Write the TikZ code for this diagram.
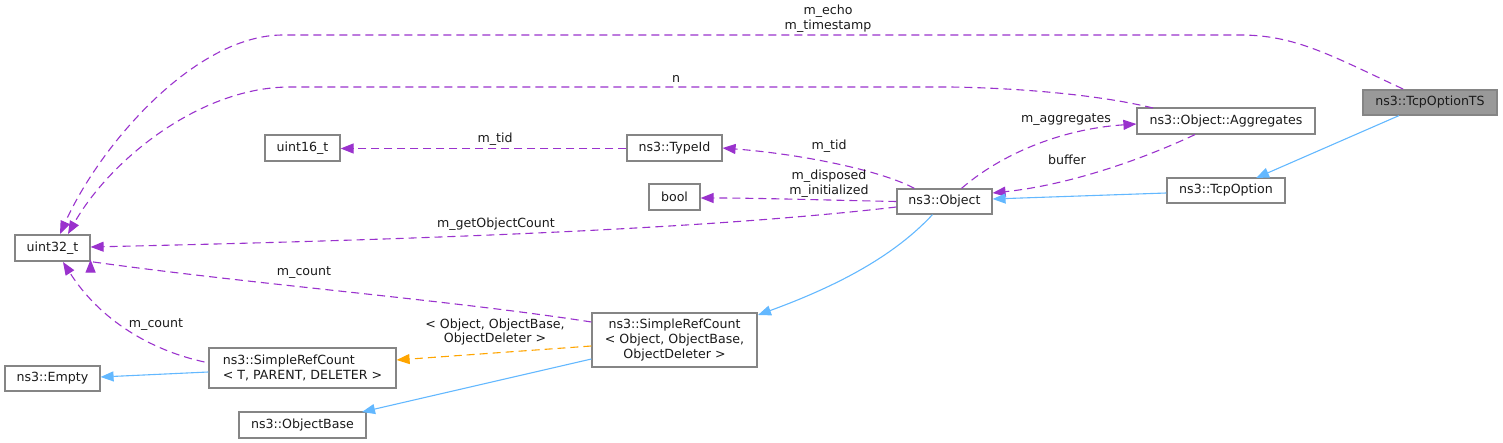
\documentclass[tikz,border=0pt]{standalone}
\usepackage{fontspec}
\setmainfont{DejaVu Sans}
\usetikzlibrary{arrows.meta}
\definecolor{edgepurple}{HTML}{9A32CD}
\definecolor{edgeblue}{HTML}{63B8FF}
\definecolor{edgeorange}{HTML}{FFA500}
\definecolor{boxgray}{HTML}{858585}
\definecolor{tsfill}{HTML}{999999}
\definecolor{txt}{HTML}{1A1A1A}
\begin{document}
\begin{tikzpicture}[x=1pt,y=-1pt,
  every node/.style={font=\fontsize{12.6}{14.6}\selectfont, text=txt},
  cls/.style={draw=boxgray, line width=1.2pt, fill=white, inner sep=0pt, anchor=center},
  lbl/.style={inner sep=0pt, align=center, anchor=center},
  member/.style={draw=edgepurple, line width=1.1pt, dash pattern=on 8pt off 5pt, -{Triangle[length=13pt,width=10pt]}},
  inherit/.style={draw=edgeblue, line width=1.1pt, -{Triangle[length=13pt,width=10pt]}},
  templ/.style={draw=edgeorange, line width=1.1pt, dash pattern=on 8pt off 5pt, -{Triangle[length=13pt,width=10pt]}}
]
\useasboundingbox (0,0) rectangle (1503,443);

% nodes
\node[cls, fill=tsfill, minimum width=134pt, minimum height=25pt] (ts) at (1430,102.5) {ns3::TcpOptionTS};
\node[cls, minimum width=178pt, minimum height=26pt] (agg) at (1226,121) {ns3::Object::Aggregates};
\node[cls, minimum width=118pt, minimum height=25pt] (tcpopt) at (1226,190.5) {ns3::TcpOption};
\node[cls, minimum width=95pt, minimum height=25pt] (obj) at (944.5,201.5) {ns3::Object};
\node[cls, minimum width=95pt, minimum height=26pt] (typeid) at (674.5,148) {ns3::TypeId};
\node[cls, minimum width=51pt, minimum height=26pt] (bool) at (674.5,197) {bool};
\node[cls, minimum width=75pt, minimum height=26pt] (u16) at (302.5,148) {uint16\_t};
\node[cls, minimum width=75pt, minimum height=26pt] (u32) at (52.5,248) {uint32\_t};
\node[cls, minimum width=95pt, minimum height=25pt] (empty) at (52.5,378.5) {ns3::Empty};
\node[cls, minimum width=187pt, minimum height=40pt, align=left] (srcT) at (302.5,368) {ns3::SimpleRefCount\\< T, PARENT, DELETER >};
\node[cls, minimum width=127pt, minimum height=26pt] (objbase) at (302.5,425) {ns3::ObjectBase};
\node[cls, minimum width=165pt, minimum height=54pt, align=center] (srcO) at (674.5,340) {ns3::SimpleRefCount\\< Object, ObjectBase,\\ObjectDeleter >};

% anchor points
\coordinate (tsTop) at (1403,89);
\coordinate (u32TopA) at (60,234);
\coordinate (aggTop) at (1153,108);
\coordinate (u32TopB) at (68,234);

% member edges
\draw[member] (tsTop) .. controls (1330,55) and (1295,35) .. (1240,35) -- (283,35) .. controls (195,35) and (100,145) .. (u32TopA);
\node[lbl] (lEcho) at (828,19) {m\_echo\\m\_timestamp};

\draw[member] (aggTop) .. controls (1100,95) and (1020,88) .. (950,87) -- (290,87) .. controls (200,87) and (110,160) .. (u32TopB);
\node[lbl] (lN) at (676,79) {n};

\draw[member] (obj.north west) ++(18,0) .. controls (880,170) and (800,154) .. (typeid.east);
\node[lbl] (lTid1) at (829,146) {m\_tid};

\draw[member] (typeid.west |- 0,148.5) -- (u16.east |- 0,148.5);
\node[lbl] (lTid2) at (495,139) {m\_tid};

\draw[member] (obj.west) .. controls (820,200) and (760,198) .. (bool.east |- 0,198);
\node[lbl] (lDisp) at (829,183.5) {m\_disposed\\m\_initialized};

\draw[member] (obj.west |- 0,207) .. controls (700,230) and (400,240) .. (u32.east |- 0,247);
\node[lbl] (lGet) at (496,224) {m\_getObjectCount};

\draw[member] (obj.north) ++(17,0) .. controls (1000,155) and (1060,129) .. (agg.west |- 0,124);
\node[lbl] (lAgg) at (1066,120) {m\_aggregates};

\draw[member] (agg.south) ++(-31,0) .. controls (1130,165) and (1060,186) .. (obj.east |- 0,193);
\node[lbl] (lBuf) at (1067,160) {buffer};

\draw[member] (srcO.west |- 0,322) .. controls (450,300) and (250,284) .. (u32.south east) ++(0,-2);
\node[lbl] (lCnt1) at (304,273) {m\_count};

\draw[member] (srcT.west |- 0,362) ++(-4,0) .. controls (150,350) and (100,320) .. (63,262);
\node[lbl] (lCnt2) at (156,325) {m\_count};

% template instance
\draw[templ] (srcO.west |- 0,346) -- (srcT.east |- 0,360);
\node[lbl] (lTpl) at (495,332) {< Object, ObjectBase,\\ObjectDeleter >};

% inheritance
\draw[inherit] (tcpopt.west |- 0,193) -- (obj.east |- 0,199);
\draw[inherit] (ts.south) ++(-31,0) -- (1256,178);
\draw[inherit] (obj.south) ++(-12,0) .. controls (895,255) and (840,285) .. (758,315);
\draw[inherit] (srcT.west |- 0,372) -- (empty.east |- 0,377);
\draw[inherit] (srcO.west |- 0,359) -- (362,412);
\end{tikzpicture}
\end{document}
